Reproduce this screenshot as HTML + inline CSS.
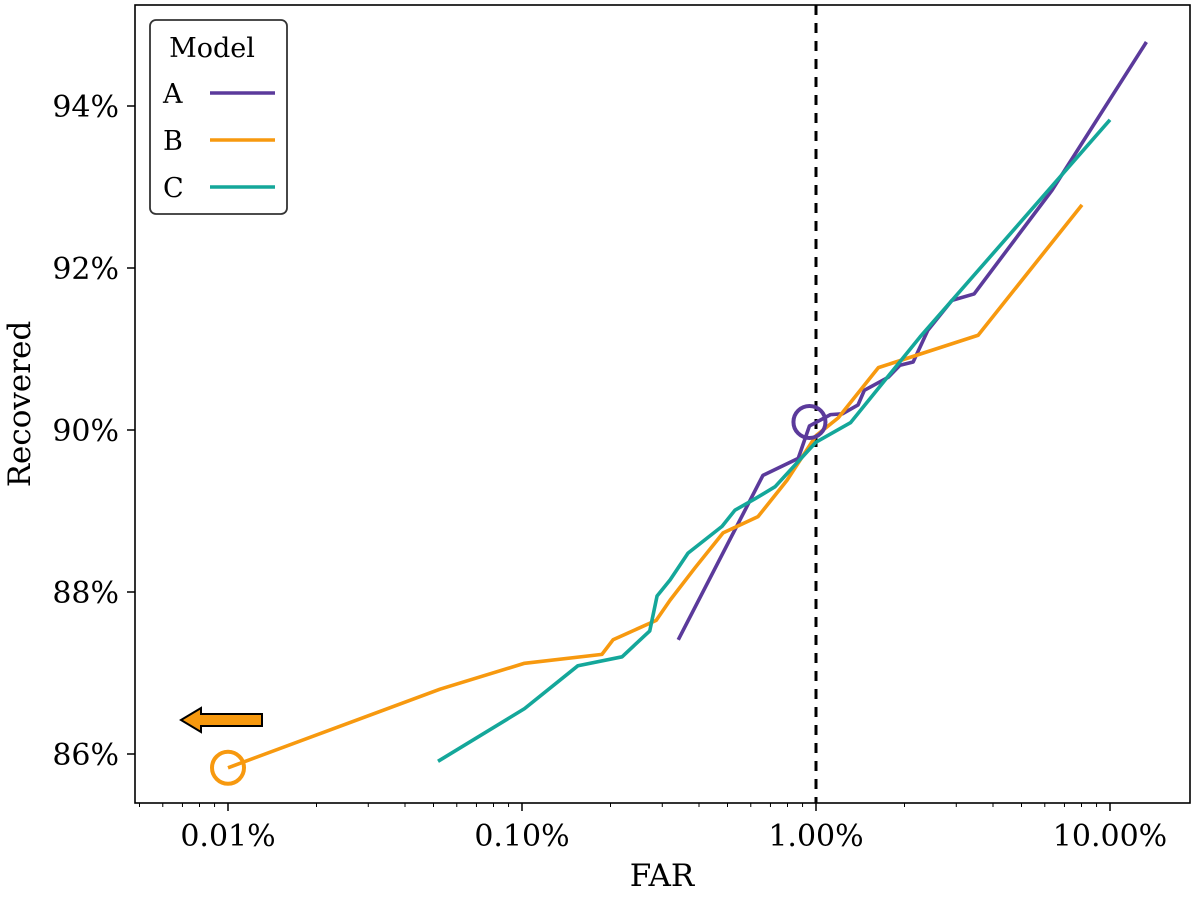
<!DOCTYPE html>
<html><head><meta charset="utf-8"><style>body{margin:0;background:#fff}svg text{font-family:"DejaVu Serif","Liberation Serif",serif}</style></head>
<body>
<svg id="chart" width="1200" height="892" xmlns="http://www.w3.org/2000/svg"></svg>
<script>
const xTickLabels=["0.01%","0.10%","1.00%","10.00%"];
const xTickValues=[0.01,0.1,1,10];
const yTickValues=[86,88,90,92,94];
const yTickLabels=["86%","88%","90%","92%","94%"];
const seriesNames=["A","B","C"];
const farA=[0.34,0.66,0.87,0.95,1.12,1.23,1.39,1.46,1.76,1.93,2.14,2.40,2.90,3.45,6.35,13.3];
const recA=[87.41,89.44,89.65,90.05,90.19,90.20,90.31,90.49,90.65,90.80,90.84,91.23,91.60,91.68,92.96,94.79];
const farB=[0.01,0.0526,0.102,0.187,0.204,0.286,0.319,0.388,0.483,0.635,0.797,1.0,1.19,1.63,3.56,8.03];
const recB=[85.83,86.80,87.12,87.23,87.41,87.65,87.90,88.30,88.73,88.93,89.38,89.93,90.15,90.77,91.17,92.78];
const farC=[0.0518,0.102,0.155,0.219,0.272,0.288,0.319,0.367,0.479,0.53,0.62,0.726,1.0,1.31,2.26,10];
const recC=[85.91,86.56,87.09,87.20,87.52,87.95,88.15,88.48,88.81,89.01,89.15,89.30,89.85,90.09,91.15,93.83];
const colors=["#5b3a9b","#f7990f","#14a79a"];
const NS="http://www.w3.org/2000/svg",svg=document.getElementById('chart');
const L=135,R=1190,T=5,B=803;
const xs=v=>816+294*Math.log10(v);
const ys=v=>430-81*(v-90);
function mk(t,a,p){const e=document.createElementNS(NS,t);for(const k in a)e.setAttribute(k,a[k]);(p||svg).appendChild(e);return e;}
let d=mk('line',{x1:xs(1),x2:xs(1),y1:T,y2:B,stroke:'#000','stroke-width':3,'stroke-dasharray':'10,8'});


const sets=[[farA,recA],[farB,recB],[farC,recC]];
sets.forEach((s,i)=>{const pts=s[0].map((f,j)=>xs(f)+','+ys(s[1][j])).join(' ');
 const p=mk('polyline',{points:pts,fill:'none',stroke:colors[i],'stroke-width':3.6,'stroke-linejoin':'round'});
 
 });
let c1=mk('circle',{cx:xs(farA[3]),cy:ys(recA[3])-4,r:16,fill:'none',stroke:colors[0],'stroke-width':4});


let c2=mk('circle',{cx:xs(farB[0]),cy:ys(recB[0]),r:16,fill:'none',stroke:colors[1],'stroke-width':4});


let ar=mk('polygon',{points:'181,720 201,708 201,714 262,714 262,726 201,726 201,732',fill:colors[1],stroke:'#000','stroke-width':2});


let fr=mk('rect',{x:L,y:T,width:R-L,height:B-T,fill:'none',stroke:'#000','stroke-width':1.6});


xTickValues.forEach((v,i)=>{const x=xs(v);mk('line',{x1:x,x2:x,y1:B,y2:B+8,stroke:'#000','stroke-width':1.5});
 const t=mk('text',{x:x,y:B+43,'font-size':30,'text-anchor':'middle'});t.textContent=xTickLabels[i];
 
 });
for(let e=-3;e<=1;e++)for(let m=2;m<10;m++){const x=xs(m*Math.pow(10,e));if(x>L&&x<R)mk('line',{x1:x,x2:x,y1:B,y2:B+4,stroke:'#000','stroke-width':1});}
yTickValues.forEach((v,i)=>{const y=ys(v);mk('line',{x1:L-8,x2:L,y1:y,y2:y,stroke:'#000','stroke-width':1.5});
 const t=mk('text',{x:L-16,y:y+11,'font-size':30,'text-anchor':'end'});t.textContent=yTickLabels[i];
 
 });
let xl=mk('text',{x:662,y:886,'font-size':31,'text-anchor':'middle'});xl.textContent='FAR';


let yl=mk('text',{x:30,y:404,'font-size':31,'text-anchor':'middle',transform:'rotate(-90 30 404)'});yl.textContent='Recovered';


const g=mk('g',{});


mk('rect',{x:150,y:20,width:137,height:194,rx:6,fill:'#fff',stroke:'#333','stroke-width':1.8},g);
const lt=mk('text',{x:212,y:57,'font-size':27,'text-anchor':'middle'},g);lt.textContent='Model';
seriesNames.forEach((n,i)=>{const y=93+47*i;
 const t=mk('text',{x:163,y:y+10,'font-size':27},g);t.textContent=n;
 
 
 mk('line',{x1:210,x2:275,y1:y,y2:y,stroke:colors[i],'stroke-width':3.6},g);});
</script>
</body></html>
